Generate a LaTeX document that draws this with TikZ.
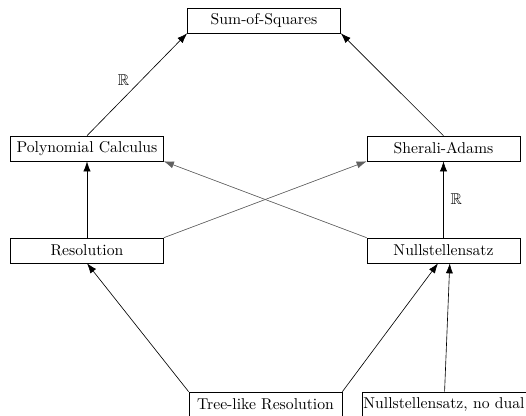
\documentclass[tikz,border=0pt]{standalone}
\usepackage{amssymb}
\usetikzlibrary{arrows.meta}
\begin{document}
\begin{tikzpicture}[x=0.637pt,y=-0.637pt,
  sysbox/.style={draw, rectangle, minimum width=97.5pt, minimum height=15.9pt, inner sep=2pt, font=\normalsize},
  arr/.style={-{Latex[length=6.4pt,width=4.6pt]}},
  garr/.style={-{Latex[length=6.4pt,width=4.6pt]}, draw=black!62, fill=black!62}]
\clip (0,0) rectangle (526,416);
\node[sysbox] (sos) at (264,20.5) {Sum-of-Squares};
\node[sysbox] (pc) at (87,148.5) {Polynomial Calculus};
\node[sysbox] (sa) at (443.5,148.5) {Sherali-Adams};
\node[sysbox] (res) at (87,250.5) {Resolution};
\node[sysbox] (ns) at (443.5,250.5) {Nullstellensatz};
\node[sysbox] (tree) at (265.5,404.5) {Tree-like Resolution};
\node[sysbox, anchor=west, inner xsep=0.7pt, text width=104pt, align=left] (nd) at (362,404.5) {Nullstellensatz, no dual};
\draw[arr] (pc.north) -- node[pos=0.54, left=4pt] {$\mathbb{R}$} (sos.south west);
\draw[arr] (sa.north) -- (sos.south east);
\draw[arr] (res.north) -- (pc.south);
\draw[arr] (ns.north) -- node[right=1pt] {$\mathbb{R}$} (sa.south);
\draw[garr] (res.north east) -- (sa.south west);
\draw[garr] (ns.north west) -- (pc.south east);
\draw[arr] (tree.north west) -- (res.south);
\draw[arr] (tree.north east) -- ([xshift=-3.5pt]ns.south);
\draw[arr] ([xshift=-0.3pt]nd.north) -- ([xshift=4pt]ns.south);
\end{tikzpicture}
\end{document}
